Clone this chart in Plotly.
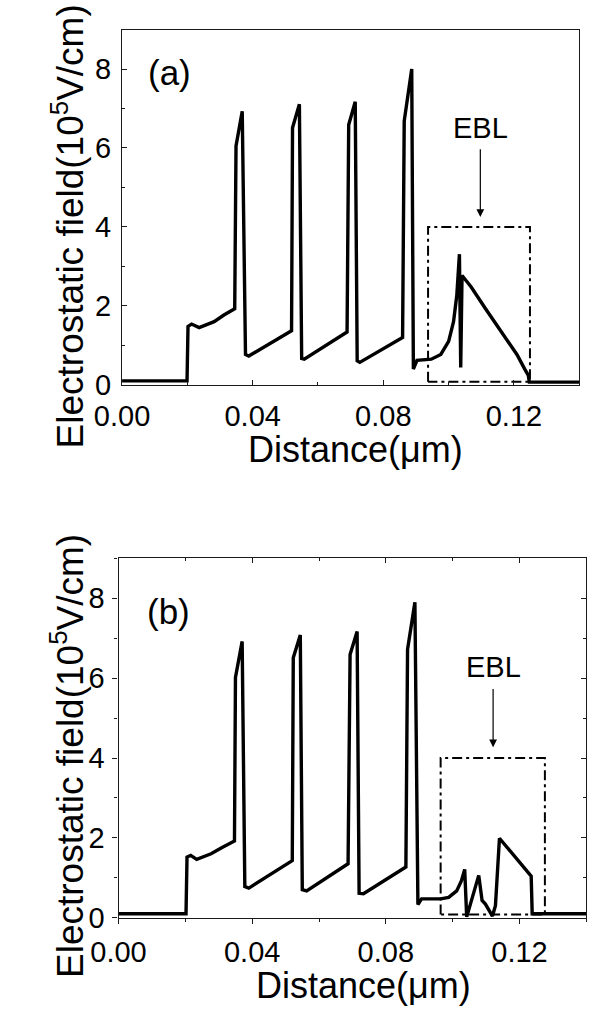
import plotly.graph_objects as go

W, H = 593, 1020

# ---------------- data ----------------
# panel (a): electrostatic field vs distance
xa = [0.0, 0.0199, 0.0202, 0.0213, 0.0236, 0.0282, 0.0312, 0.0345, 0.0349, 0.0368,
      0.0378, 0.0388, 0.0519, 0.0522, 0.0543, 0.0550, 0.0558, 0.0689, 0.0694, 0.0714,
      0.0720, 0.0728, 0.0859, 0.0864, 0.0887, 0.0892, 0.0903, 0.0947, 0.0976, 0.1000,
      0.1015, 0.1025, 0.1033, 0.1037, 0.1041, 0.1069, 0.1112, 0.1161, 0.1209, 0.1233,
      0.1244, 0.1247, 0.14]
ya = [0.1, 0.1, 1.48, 1.54, 1.45, 1.6, 1.77, 1.93, 6.05, 6.93,
      0.77, 0.73, 1.37, 6.51, 7.11, 0.67, 0.65, 1.34, 6.59, 7.17,
      0.61, 0.57, 1.2, 6.68, 8.0, 0.4, 0.62, 0.65, 0.77, 1.1,
      1.6, 2.27, 3.31, 0.44, 2.77, 2.48, 1.94, 1.35, 0.77, 0.4,
      0.24, 0.07, 0.07]

# panel (b)
xb = [0.0, 0.0202, 0.0205, 0.0216, 0.0234, 0.0277, 0.0310, 0.0347, 0.0350, 0.0370,
      0.0378, 0.0390, 0.0520, 0.0523, 0.0544, 0.0550, 0.0563, 0.0687, 0.0693, 0.0714,
      0.0720, 0.0733, 0.0860, 0.0865, 0.0887, 0.0896, 0.0907, 0.0964, 0.0988, 0.1012,
      0.1026, 0.1036, 0.1042, 0.1078, 0.1088, 0.1098, 0.1119, 0.1128, 0.1140, 0.1235,
      0.1238, 0.14]
yb = [0.1, 0.1, 1.52, 1.56, 1.46, 1.6, 1.76, 1.92, 6.02, 6.92,
      0.78, 0.74, 1.43, 6.51, 7.08, 0.7, 0.67, 1.35, 6.59, 7.17,
      0.61, 0.6, 1.27, 6.72, 7.9, 0.33, 0.47, 0.47, 0.51, 0.67,
      0.92, 1.21, 0.02, 1.06, 0.43, 0.34, 0.04, 0.3, 1.99, 1.04,
      0.1, 0.1]

# EBL boxes (x0, x1, y0, y1) in data units
ebl_a = [0.0937, 0.1249, 0.08, 4.0]
ebl_b = [0.0964, 0.1276, 0.08, 4.0]
# EBL label + arrow: x, arrow tip y, label y
ebl_arrow_a = [0.1097, 4.25, 6.51]
ebl_arrow_b = [0.1121, 4.27, 6.27]
panel_lbl_a = [0.0144, 7.9]
panel_lbl_b = [0.0151, 7.68]

x_tickvals = [0.0, 0.04, 0.08, 0.12]
x_ticktext = ["0.00", "0.04", "0.08", "0.12"]
y_tickvals = [0, 2, 4, 6, 8]
y_ticktext = ["0", "2", "4", "6", "8"]

FONT = "Liberation Sans, Arial, sans-serif"
AX = "#1a1a1a"


def box_xy(b):
    x0, x1, y0, y1 = b
    return [x0, x0, x1, x1, x0], [y0, y1, y1, y0, y0]


fig = go.Figure()
fig.add_trace(go.Scatter(x=xa, y=ya, mode="lines", line=dict(color="black", width=3.4),
                         xaxis="x", yaxis="y", showlegend=False))
bx, by = box_xy(ebl_a)
fig.add_trace(go.Scatter(x=bx, y=by, mode="lines",
                         line=dict(color="black", width=2, dash="10px,4px,3px,4px"),
                         xaxis="x", yaxis="y", showlegend=False))
fig.add_trace(go.Scatter(x=xb, y=yb, mode="lines", line=dict(color="black", width=3.4),
                         xaxis="x2", yaxis="y2", showlegend=False))
bx, by = box_xy(ebl_b)
fig.add_trace(go.Scatter(x=bx, y=by, mode="lines",
                         line=dict(color="black", width=2, dash="10px,4px,3px,4px"),
                         xaxis="x2", yaxis="y2", showlegend=False))
# carrier trace for inside-tick overlay axes of panel (b)
fig.add_trace(go.Scatter(x=[0.0], y=[0.0], mode="lines", opacity=0,
                         xaxis="x3", yaxis="y3", showlegend=False, hoverinfo="skip"))

# domains (from pixel positions)
xa_dom = [98.7 / W, 578.6 / W]
ya_dom = [1 - 391 / H, 1 - 30 / H]
xb_dom = [95 / W, 586 / W]
yb_dom = [1 - 932.3 / H, 1 - 567.3 / H]

tickfont = dict(family=FONT, size=29, color="black")


def xax(dom, anchor, ticks, **kw):
    d = dict(domain=dom, anchor=anchor, range=[0, 0.14], tickmode="array",
             tickvals=x_tickvals, ticktext=x_ticktext, ticks=ticks, ticklen=5,
             tickwidth=1.2, tickcolor=AX, showline=True, linecolor=AX, linewidth=1.3,
             mirror=True, showgrid=False, zeroline=False, tickfont=tickfont,
             minor=dict(tickmode="linear", tick0=0, dtick=0.02, ticks=ticks, ticklen=3,
                        tickwidth=1.2, tickcolor=AX, showgrid=False))
    d.update(kw)
    return d


def yax(dom, anchor, ticks, **kw):
    d = dict(domain=dom, anchor=anchor, range=[0, 9], tickmode="array",
             tickvals=y_tickvals, ticktext=y_ticktext, ticks=ticks, ticklen=5,
             tickwidth=1.2, tickcolor=AX, showline=True, linecolor=AX, linewidth=1.3,
             mirror=True, showgrid=False, zeroline=False, tickfont=tickfont,
             minor=dict(tickmode="linear", tick0=0, dtick=1, ticks=ticks, ticklen=3,
                        tickwidth=1.2, tickcolor=AX, showgrid=False))
    d.update(kw)
    return d


fig.update_layout(
    width=W, height=H, margin=dict(l=0, r=0, t=0, b=0),
    paper_bgcolor="white", plot_bgcolor="white", showlegend=False,
    xaxis=xax(xa_dom, "y", "inside", ticklabelstandoff=5),
    yaxis=yax(ya_dom, "x", "inside", ticklabelstandoff=4),
    xaxis2=xax(xb_dom, "y2", "outside", ticklabelstandoff=3),
    yaxis2=yax(yb_dom, "x2", "outside", ticklabelstandoff=2),
    xaxis3=xax(xb_dom, "y2", "inside", overlaying="x2", side="top",
               showticklabels=False, showline=False, mirror=False),
    yaxis3=yax(yb_dom, "x2", "inside", overlaying="y2", side="right",
               showticklabels=False, showline=False, mirror=False),
)

ann = []
for (arr, pl, txt, xr, yr) in [(ebl_arrow_a, panel_lbl_a, "(a)", "x", "y"),
                               (ebl_arrow_b, panel_lbl_b, "(b)", "x2", "y2")]:
    # "EBL" label with its arrow pointing down to the box
    ann.append(dict(x=arr[0], y=arr[1], ax=arr[0], ay=arr[2], xref=xr, yref=yr,
                    axref=xr, ayref=yr, text="EBL", showarrow=True, arrowhead=2,
                    arrowsize=1.3, arrowwidth=1.2, arrowcolor="black", standoff=0,
                    startstandoff=4,
                    font=dict(family=FONT, size=29, color="black")))
    ann.append(dict(x=pl[0], y=pl[1], xref=xr, yref=yr, text=txt, showarrow=False,
                    font=dict(family=FONT, size=35, color="black"),
                    xanchor="center", yanchor="middle"))

ytitle = "Electrostatic field(10<sup>5</sup>V/cm)"
xtitle = "Distance(\u03bcm)"
for (cx, cy) in [(42, 230), (42, 768)]:
    ann.append(dict(x=cx / W, y=1 - cy / H, xref="paper", yref="paper", text=ytitle,
                    textangle=-90, showarrow=False,
                    font=dict(family=FONT, size=37, color="black"),
                    xanchor="center", yanchor="middle"))
for (cx, cy) in [(344, 457), (352, 1001)]:
    ann.append(dict(x=cx / W, y=1 - cy / H, xref="paper", yref="paper", text=xtitle,
                    showarrow=False, font=dict(family=FONT, size=36, color="black"),
                    xanchor="center", yanchor="middle"))
fig.update_layout(annotations=ann)

fig.write_html("out.html")
